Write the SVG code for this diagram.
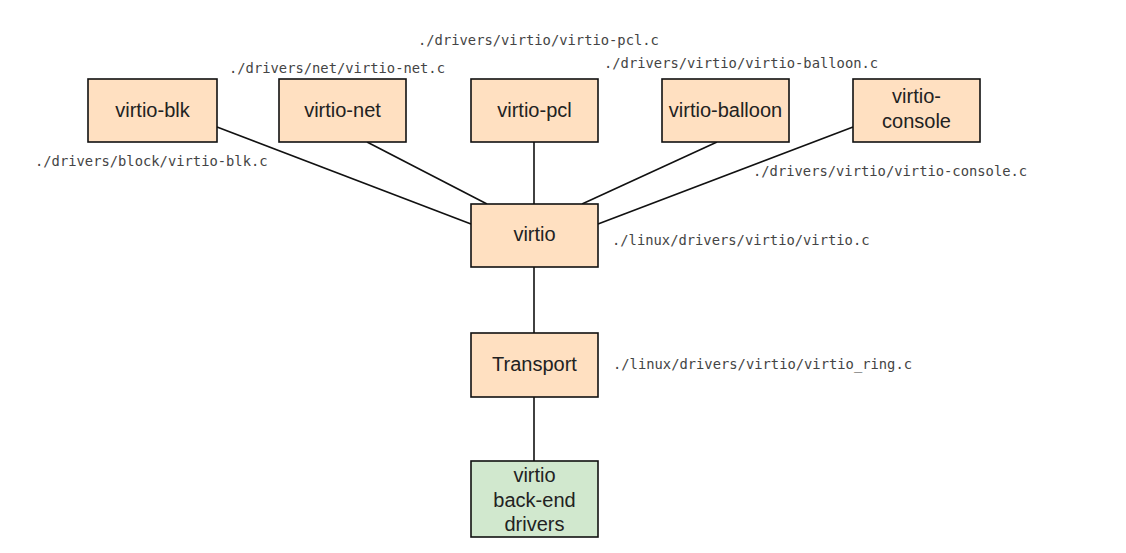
<svg xmlns="http://www.w3.org/2000/svg" width="1126" height="553" viewBox="0 0 1126 553">
<style>
.box{fill:#FFE0C1;stroke:#111;stroke-width:1.6}
.green{fill:#D1E8CE;stroke:#111;stroke-width:1.6}
.t{font-family:"Liberation Sans",Arial,sans-serif;font-size:20px;fill:#222;text-anchor:middle}
.lbl{font-family:"DejaVu Sans Mono","Liberation Mono",monospace;font-size:13.8px;fill:#444}
.c{stroke:#111;stroke-width:1.6;fill:none}
</style>
<rect width="1126" height="553" fill="#fff"/>
<g id="connectors">
<line class="c" x1="217" y1="127" x2="471" y2="224"/>
<line class="c" x1="367" y1="142" x2="487" y2="204"/>
<line class="c" x1="534" y1="142" x2="534" y2="204"/>
<line class="c" x1="717" y1="142" x2="582" y2="204"/>
<line class="c" x1="853" y1="127" x2="598" y2="224"/>
<line class="c" x1="534" y1="267" x2="534" y2="333"/>
<line class="c" x1="534" y1="397" x2="534" y2="461"/>
</g>
<g id="virtio-blk"><rect class="box" x="88" y="79" width="129" height="63"/><text class="t" x="152.5" y="117">virtio-blk</text></g>
<g id="virtio-net"><rect class="box" x="279" y="79" width="127" height="63"/><text class="t" x="342.5" y="117">virtio-net</text></g>
<g id="virtio-pcl"><rect class="box" x="471" y="79" width="127" height="63"/><text class="t" x="534.5" y="117">virtio-pcl</text></g>
<g id="virtio-balloon"><rect class="box" x="662" y="79" width="127" height="63"/><text class="t" x="725.5" y="117">virtio-balloon</text></g>
<g id="virtio-console"><rect class="box" x="853" y="79" width="127" height="63"/><text class="t" x="916.5" y="103">virtio-</text><text class="t" x="916.5" y="128">console</text></g>
<g id="virtio"><rect class="box" x="471" y="204" width="127" height="63"/><text class="t" x="534.5" y="241">virtio</text></g>
<g id="transport"><rect class="box" x="471" y="333" width="127" height="64"/><text class="t" x="534.5" y="371">Transport</text></g>
<g id="backend"><rect class="green" x="471" y="461" width="127" height="76"/><text class="t" x="534.5" y="482">virtio</text><text class="t" x="534.5" y="507">back-end</text><text class="t" x="534.5" y="531">drivers</text></g>
<g id="labels">
<text class="lbl" x="418" y="45">./drivers/virtio/virtio-pcl.c</text>
<text class="lbl" x="229" y="73">./drivers/net/virtio-net.c</text>
<text class="lbl" x="604" y="68">./drivers/virtio/virtio-balloon.c</text>
<text class="lbl" x="35" y="166">./drivers/block/virtio-blk.c</text>
<text class="lbl" x="753" y="176">./drivers/virtio/virtio-console.c</text>
<text class="lbl" x="612" y="245">./linux/drivers/virtio/virtio.c</text>
<text class="lbl" x="613" y="369">./linux/drivers/virtio/virtio_ring.c</text>
</g>
</svg>
